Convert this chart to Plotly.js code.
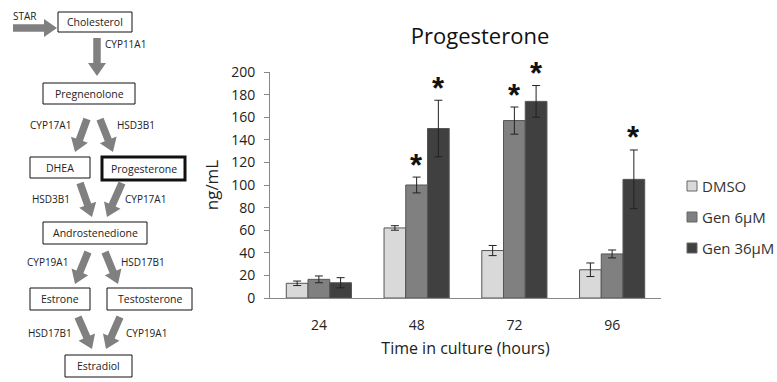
<!DOCTYPE html>
<html>
<head>
<meta charset="utf-8">
<script src="https://cdn.plot.ly/plotly-3.0.1.min.js"></script>
<style>html,body{margin:0;padding:0;background:#fff;}#chart{width:777px;height:382px;}</style>
</head>
<body>
<div id="chart"></div>
<script>
// ---- data ----
const categories = ['24', '48', '72', '96'];
const seriesNames = ['DMSO', 'Gen 6µM', 'Gen 36µM'];
const dmso = [13, 62, 42, 25];
const dmsoErr = [2, 2, 4.5, 6];
const gen6 = [16.5, 100, 157, 39];
const gen6Err = [3, 7, 12, 3.5];
const gen36 = [13.5, 150, 174, 105];
const gen36Err = [4.5, 25, 14, 26];
const dmsoSig = [false, false, false, false];
const gen6Sig = [false, true, true, false];
const gen36Sig = [false, true, true, true];
const seriesColors = ['#d9d9d9', '#808080', '#404040'];

// pathway diagram content
const pathwayNodes = ['Cholesterol', 'Pregnenolone', 'DHEA', 'Progesterone', 'Androstenedione', 'Estrone', 'Testosterone', 'Estradiol'];
const enzymeLabels = ['STAR', 'CYP11A1', 'CYP17A1', 'HSD3B1', 'HSD3B1', 'CYP17A1', 'CYP19A1', 'HSD17B1', 'HSD17B1', 'CYP19A1'];

// ---- layout helpers (pixel -> paper) ----
const W = 777, H = 382;
const PX = x => x / W;
const PY = y => 1 - y / H;

const values = [dmso, gen6, gen36];
const errs = [dmsoErr, gen6Err, gen36Err];
const sigs = [dmsoSig, gen6Sig, gen36Sig];

const traces = seriesNames.map((name, i) => ({
  type: 'bar',
  name: name,
  x: categories,
  y: values[i],
  marker: {color: seriesColors[i], line: {color: '#555555', width: 1}},
  error_y: {type: 'data', array: errs[i], visible: true, color: '#222222', thickness: 1, width: 4},
  showlegend: false,
  hoverinfo: 'skip'
}));

const shapes = [];
const annotations = [];

// significance asterisks (x given as category index)
const barW = 97.75 / 4.5;
seriesNames.forEach((name, i) => {
  categories.forEach((c, j) => {
    if (sigs[i][j]) {
      annotations.push({
        xref: 'x', yref: 'y', x: j, y: values[i][j] + errs[i][j],
        xshift: (i - 1) * barW, yshift: 12,
        text: '*', showarrow: false, yanchor: 'middle', xanchor: 'center',
        font: {family: 'Liberation Sans', size: 31, color: '#111', weight: 'bold'}
      });
    }
  });
});

// manual legend
const legendY = [186, 217, 248];
seriesNames.forEach((name, i) => {
  shapes.push({type: 'rect', xref: 'paper', yref: 'paper',
    x0: PX(687), x1: PX(697), y0: PY(legendY[i] + 5), y1: PY(legendY[i] - 5),
    fillcolor: seriesColors[i], line: {color: '#666', width: 1}});
  annotations.push({xref: 'paper', yref: 'paper', x: PX(700), y: PY(legendY[i]),
    xanchor: 'left', yanchor: 'middle', text: name, showarrow: false,
    font: {family: 'Open Sans', size: 15, color: '#333'}});
});

// pathway boxes [x0, y0, x1, y1, lineWidth]
const boxGeom = [
  [58, 12, 132, 32, 1],
  [43, 83, 135, 104, 1],
  [30, 157, 90, 178, 1],
  [102, 157, 185, 180, 3],
  [43, 222, 147, 244, 1],
  [30, 288, 90, 310, 1],
  [107, 288, 192, 310, 1],
  [65, 355, 132, 377, 1]
];
pathwayNodes.forEach((name, i) => {
  const g = boxGeom[i];
  shapes.push({type: 'rect', xref: 'paper', yref: 'paper',
    x0: PX(g[0]), x1: PX(g[2]), y0: PY(g[3]), y1: PY(g[1]),
    line: {color: '#111', width: g[4]}, fillcolor: 'rgba(0,0,0,0)'});
  annotations.push({xref: 'paper', yref: 'paper',
    x: PX((g[0] + g[2]) / 2), y: PY((g[1] + g[3]) / 2),
    xanchor: 'center', yanchor: 'middle', text: name, showarrow: false,
    font: {family: 'Open Sans', size: 10.5, color: '#222'}});
});

// enzyme label positions [cx, cy]
const labelPos = [
  [25, 16], [125, 44], [51, 125], [136, 125], [51, 199], [145, 199],
  [47, 262], [143, 262], [50, 333], [146, 333]
];
enzymeLabels.forEach((t, i) => {
  annotations.push({xref: 'paper', yref: 'paper', x: PX(labelPos[i][0]), y: PY(labelPos[i][1]),
    xanchor: 'center', yanchor: 'middle', text: t, showarrow: false,
    font: {family: 'Open Sans', size: 10, color: '#222'}});
});

// arrows [x0, y0, x1, y1]
const arrowGeom = [
  [13, 28, 57, 28],
  [97, 38, 97, 76],
  [87, 119, 75, 152],
  [100, 119, 113, 152],
  [80, 183, 92, 217],
  [122, 183, 107, 217],
  [88, 252, 75, 284],
  [105, 252, 118, 284],
  [78, 317, 92, 349],
  [120, 317, 106, 349]
];
function arrowPath(a, w, hw, hl) {
  const dx = a[2] - a[0], dy = a[3] - a[1];
  const L = Math.hypot(dx, dy);
  const ux = dx / L, uy = dy / L, nx = -uy, ny = ux;
  const bx = a[2] - ux * hl, by = a[3] - uy * hl;
  const pts = [
    [a[0] + nx * w / 2, a[1] + ny * w / 2],
    [bx + nx * w / 2, by + ny * w / 2],
    [bx + nx * hw / 2, by + ny * hw / 2],
    [a[2], a[3]],
    [bx - nx * hw / 2, by - ny * hw / 2],
    [bx - nx * w / 2, by - ny * w / 2],
    [a[0] - nx * w / 2, a[1] - ny * w / 2]
  ];
  return 'M' + pts.map(p => PX(p[0]).toFixed(5) + ',' + PY(p[1]).toFixed(5)).join('L') + 'Z';
}
arrowGeom.forEach(a => {
  shapes.push({type: 'path', xref: 'paper', yref: 'paper', path: arrowPath(a, 7.5, 18, 13),
    fillcolor: '#808080', line: {width: 0}});
});

const layout = {
  width: W, height: H,
  margin: {l: 0, r: 0, t: 0, b: 0},
  paper_bgcolor: '#fff', plot_bgcolor: '#fff',
  barmode: 'group', bargap: 1 / 3, bargroupgap: 0,
  font: {family: 'Open Sans', color: '#222'},
  title: {text: 'Progesterone', x: PX(480), xanchor: 'center', y: PY(36), yanchor: 'middle',
    font: {family: 'Open Sans', size: 22, color: '#111'}},
  xaxis: {
    domain: [PX(270), PX(661)], type: 'category', range: [-0.5, 3.5],
    showline: true, linecolor: '#888', linewidth: 1, ticks: '', showgrid: false, zeroline: false,
    tickfont: {family: 'Open Sans', size: 14, color: '#222'}, ticklabelstandoff: 14,
    title: {text: 'Time in culture (hours)', font: {family: 'Open Sans', size: 16, color: '#222'}, standoff: 10},
    automargin: false, fixedrange: true
  },
  yaxis: {
    domain: [1 - 298 / H, 1 - 72 / H], range: [0, 200], dtick: 20,
    showline: true, linecolor: '#888', linewidth: 1, ticks: 'outside', ticklen: 5, tickcolor: '#888',
    showgrid: false, zeroline: false,
    tickfont: {family: 'Open Sans', size: 14, color: '#222'}, ticklabelstandoff: 6,
    title: {text: 'ng/mL', font: {family: 'Open Sans', size: 17, color: '#222'}, standoff: 8},
    automargin: false, fixedrange: true
  },
  shapes: shapes,
  annotations: annotations
};

Plotly.newPlot('chart', traces, layout, {displayModeBar: false, staticPlot: true});
</script>
</body>
</html>
